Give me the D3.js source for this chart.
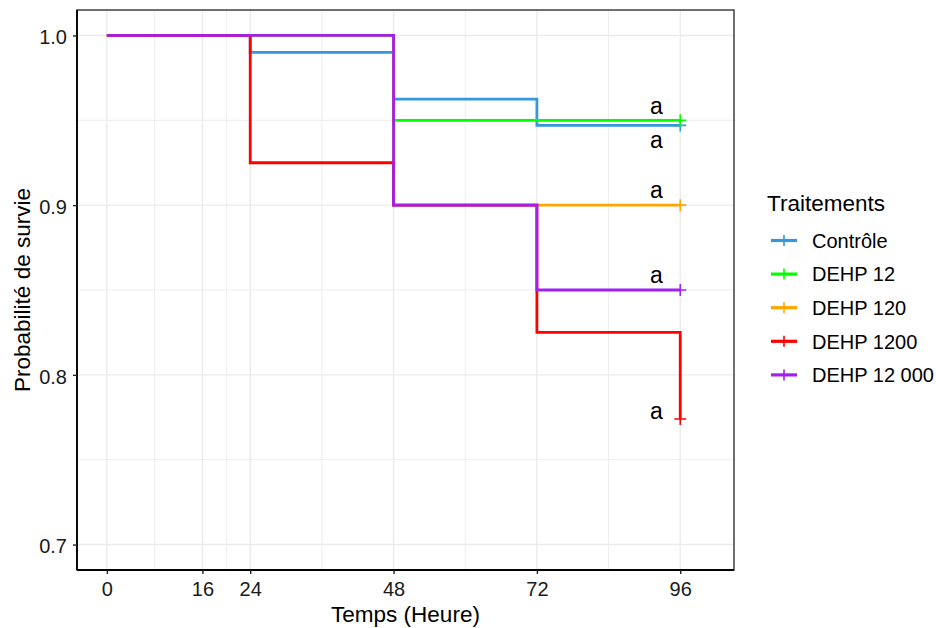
<!DOCTYPE html>
<html>
<head>
<meta charset="utf-8">
<script src="https://cdn.jsdelivr.net/npm/d3@7"></script>
<style>
  html, body { margin: 0; padding: 0; background: #fff; }
  svg { display: block; font-family: "Liberation Sans", Arial, sans-serif; }
</style>
</head>
<body>
<svg id="chart" width="936" height="628"></svg>
<script>
// Kaplan-Meier survival curves per treatment
const groups = ["Contrôle", "DEHP 12", "DEHP 120", "DEHP 1200", "DEHP 12 000"];
const groupColors = ["#3498DB", "#00FF00", "#FFA500", "#FF0000", "#A020F0"];
const times = [0, 24, 48, 72, 96];
const survControle = [1, 0.99, 0.9625, 0.947, 0.947];
const survDehp12 = [1, 1, 0.95, 0.95, 0.95];
const survDehp120 = [1, 1, 0.9, 0.9, 0.9];
const survDehp1200 = [1, 0.925, 0.9, 0.825, 0.774];
const survDehp12000 = [1, 1, 0.9, 0.85, 0.85];
const survival = [survControle, survDehp12, survDehp120, survDehp1200, survDehp12000];

// significance letters (position in hours / probability)
const letterText = ["a", "a", "a", "a", "a"];
const letterTime = [92, 92, 92, 92, 92];
const letterProb = [0.938, 0.958, 0.908, 0.778, 0.858];

const xTicks = [0, 16, 24, 48, 72, 96];
const xMinor = [8, 20, 36, 60, 84];
const yTicks = [0.7, 0.8, 0.9, 1.0];
const yMinor = [0.75, 0.85, 0.95];

const svg = d3.select("#chart");
const panel = { left: 77, right: 734, top: 10, bottom: 570 };

const x = d3.scaleLinear().domain([-5, 105]).range([panel.left, panel.right]);
const y = d3.scaleLinear().domain([0.685, 1.015]).range([panel.bottom, panel.top]);

// grid
const grid = svg.append("g");
grid.selectAll(".gx-minor").data(xMinor).join("line")
  .attr("x1", d => x(d)).attr("x2", d => x(d))
  .attr("y1", panel.top).attr("y2", panel.bottom)
  .attr("stroke", "#EBEBEB").attr("stroke-width", 0.9);
grid.selectAll(".gy-minor").data(yMinor).join("line")
  .attr("y1", d => y(d)).attr("y2", d => y(d))
  .attr("x1", panel.left).attr("x2", panel.right)
  .attr("stroke", "#EBEBEB").attr("stroke-width", 0.9);
grid.selectAll(".gx").data(xTicks).join("line")
  .attr("x1", d => x(d)).attr("x2", d => x(d))
  .attr("y1", panel.top).attr("y2", panel.bottom)
  .attr("stroke", "#EBEBEB").attr("stroke-width", 1.4);
grid.selectAll(".gy").data(yTicks).join("line")
  .attr("y1", d => y(d)).attr("y2", d => y(d))
  .attr("x1", panel.left).attr("x2", panel.right)
  .attr("stroke", "#EBEBEB").attr("stroke-width", 1.4);

// survival step lines
const line = d3.line()
  .x(d => x(d[0]))
  .y(d => y(d[1]))
  .curve(d3.curveStepAfter);

const curves = svg.append("g");
groups.forEach((g, i) => {
  const pts = times.map((t, j) => [t, survival[i][j]]);
  curves.append("path")
    .attr("d", line(pts))
    .attr("fill", "none")
    .attr("stroke", groupColors[i])
    .attr("stroke-width", 2.8)
    .attr("stroke-linejoin", "miter")
    .attr("stroke-linecap", "butt");
});

// censor marks at end of follow-up
const cs = 6;
groups.forEach((g, i) => {
  const last = times.length - 1;
  const cx = x(times[last]), cy = y(survival[i][last]);
  curves.append("path")
    .attr("d", `M${cx - cs},${cy}H${cx + cs}M${cx},${cy - cs}V${cy + cs}`)
    .attr("stroke", groupColors[i])
    .attr("stroke-width", 1.6)
    .attr("fill", "none");
});

// letters
svg.append("g").selectAll("text").data(letterText).join("text")
  .attr("x", (d, i) => x(letterTime[i]))
  .attr("y", (d, i) => y(letterProb[i]))
  .attr("dy", "0.3em")
  .attr("text-anchor", "middle")
  .style("font-size", "23px")
  .attr("fill", "#000")
  .text(d => d);

// panel border
svg.append("rect")
  .attr("x", panel.left).attr("y", panel.top)
  .attr("width", panel.right - panel.left).attr("height", panel.bottom - panel.top)
  .attr("fill", "none").attr("stroke", "#333").attr("stroke-width", 1.4);

// axes
const xAxis = svg.append("g")
  .attr("transform", `translate(0,${panel.bottom})`)
  .call(d3.axisBottom(x).tickValues(xTicks).tickSize(4).tickPadding(8).tickFormat(d3.format("d")));
const yAxis = svg.append("g")
  .attr("transform", `translate(${panel.left},0)`)
  .call(d3.axisLeft(y).tickValues(yTicks).tickSize(4).tickPadding(6).tickFormat(d3.format(".1f")));
[xAxis, yAxis].forEach(a => {
  a.select(".domain").attr("stroke", "#000").attr("stroke-width", 1.8);
  a.selectAll(".tick line").attr("stroke", "#222").attr("stroke-width", 1.4);
  a.selectAll(".tick text").attr("fill", "#1a1a1a")
    .style("font-size", "20px")
    .style("font-family", "'Liberation Sans', Arial, sans-serif");
});
yAxis.selectAll(".tick text").attr("dy", "0.42em");
xAxis.select(".domain").attr("d", `M${panel.left},0H${panel.right}`);
yAxis.select(".domain").attr("d", `M0,${panel.bottom}V${panel.top}`);

// axis titles
svg.append("text")
  .attr("x", (panel.left + panel.right) / 2).attr("y", 622)
  .attr("text-anchor", "middle").style("font-size", "22.5px").attr("fill", "#000")
  .text("Temps (Heure)");
svg.append("text")
  .attr("transform", `translate(30,${(panel.top + panel.bottom) / 2}) rotate(-90)`)
  .attr("text-anchor", "middle").style("font-size", "22.5px").attr("fill", "#000")
  .text("Probabilité de survie");

// legend
const legend = svg.append("g");
legend.append("text")
  .attr("x", 767).attr("y", 211)
  .style("font-size", "22.5px").attr("fill", "#000")
  .text("Traitements");
groups.forEach((g, i) => {
  const ly = 240.5 + i * 33.6;
  legend.append("line")
    .attr("x1", 771).attr("x2", 797).attr("y1", ly).attr("y2", ly)
    .attr("stroke", groupColors[i]).attr("stroke-width", 3.2);
  legend.append("line")
    .attr("x1", 784).attr("x2", 784).attr("y1", ly - 5.5).attr("y2", ly + 5.5)
    .attr("stroke", groupColors[i]).attr("stroke-width", 1.6);
  legend.append("text")
    .attr("x", 812).attr("y", ly).attr("dy", "0.36em")
    .style("font-size", "20px").attr("fill", "#000")
    .text(g);
});
</script>
</body>
</html>
